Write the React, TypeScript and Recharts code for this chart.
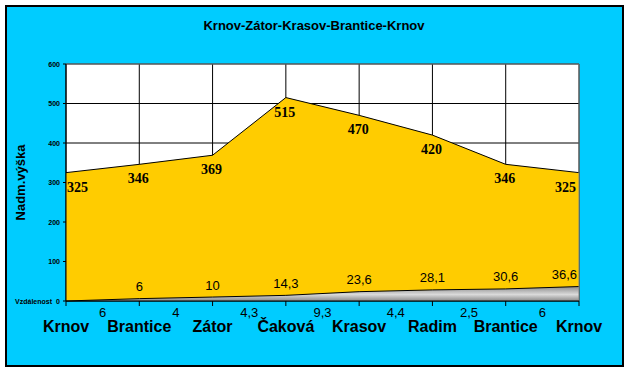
import React from "react";
import {
  AreaChart,
  Area,
  XAxis,
  YAxis,
  CartesianGrid,
  LabelList,
  ReferenceLine,
  Label,
} from "recharts";

// trasa a hodnoty
const places = ["Krnov", "Brantice", "Zátor", "Čaková", "Krasov", "Radim", "Brantice", "Krnov"];
const elevation = [325, 346, 369, 515, 470, 420, 346, 325];
const distance = [0, 6, 10, 14.3, 23.6, 28.1, 30.6, 36.6];
const segments = ["6", "4", "4,3", "9,3", "4,4", "2,5", "6"];
const yTicks = [0, 100, 200, 300, 400, 500, 600];

const data = places.map((p, i) => ({ idx: i, place: p, elev: elevation[i], dist: distance[i] }));
// celé indexy = obce, poloviny = úseky mezi nimi
const xTicks = places.flatMap((_, i) => (i < places.length - 1 ? [i, i + 0.5] : [i]));
const gridX = places.map((_, i) => i);

const SANS = "'Liberation Sans', Arial, sans-serif";
const SERIF = "'Liberation Serif', 'Times New Roman', serif";

const fmt = (v: number) => String(v).replace(".", ",");

function XTick(props: any) {
  const { x, y, payload } = props;
  const v = payload.value as number;
  if (Number.isInteger(v)) {
    return (
      <g>
        <line x1={x} x2={x} y1={y} y2={y + 5} stroke="#000" />
        <text x={x} y={y + 31} textAnchor="middle" fontFamily={SANS} fontWeight="bold" fontSize={16} fill="#000">
          {places[v]}
        </text>
      </g>
    );
  }
  return (
    <text x={x} y={y + 16} textAnchor="middle" fontFamily={SANS} fontSize={13} fill="#000">
      {segments[Math.floor(v)]}
    </text>
  );
}

function YTick(props: any) {
  const { x, y, payload } = props;
  return (
    <g fontFamily={SANS} fontWeight="bold" fontSize={7} fill="#000">
      {payload.value === 0 && (
        <text x={x - 8} y={y + 2.5} textAnchor="end">
          Vzdálenost
        </text>
      )}
      <text x={x} y={y + 2.5} textAnchor="end">
        {payload.value}
      </text>
    </g>
  );
}

function anchorFor(index: number) {
  if (index === 0) return "start";
  if (index === places.length - 1) return "end";
  return "middle";
}

function ElevLabel(props: any) {
  const { x, y, value, index } = props;
  const a = anchorFor(index);
  const dx = a === "start" ? 1 : a === "end" ? -3 : -1;
  return (
    <text x={x + dx} y={y + 19} textAnchor={a} fontFamily={SERIF} fontWeight="bold" fontSize={14} fill="#000">
      {value}
    </text>
  );
}

function DistLabel(props: any) {
  const { x, y, value, index } = props;
  if (index === 0) return null;
  const a = anchorFor(index);
  return (
    <text x={a === "end" ? x - 2 : x} y={y - 7.5} textAnchor={a} fontFamily={SANS} fontSize={13} fill="#000">
      {fmt(value)}
    </text>
  );
}

export default function App() {
  return (
    <div style={{ position: "absolute", left: 0, top: 0, width: 630, height: 372, background: "#fff" }}>
      <div
        style={{
          position: "absolute",
          left: 5,
          top: 5,
          width: 619,
          height: 362,
          boxSizing: "border-box",
          border: "2px solid #000",
          background: "#00CCFF",
        }}
      />
      <div
        style={{
          position: "absolute",
          left: 0,
          top: 18,
          width: 628,
          textAlign: "center",
          fontFamily: SANS,
          fontWeight: "bold",
          fontSize: 13,
          lineHeight: "16px",
          color: "#000",
        }}
      >
        Krnov-Zátor-Krasov-Brantice-Krnov
      </div>
      <div style={{ position: "absolute", left: 0, top: 0 }}>
        <AreaChart width={630} height={372} data={data} margin={{ top: 64, right: 51, bottom: 31, left: 26 }}>
          <defs>
            <linearGradient id="distFill" x1="0" y1="0" x2="0" y2="1">
              <stop offset="0%" stopColor="#8c8c8c" />
              <stop offset="55%" stopColor="#dadada" />
              <stop offset="100%" stopColor="#8a8a8a" />
            </linearGradient>
          </defs>
          <CartesianGrid stroke="#000" fill="#fff" verticalValues={gridX} horizontalValues={yTicks} />
          <XAxis
            dataKey="idx"
            type="number"
            domain={[0, places.length - 1]}
            ticks={xTicks}
            interval={0}
            height={40}
            tickSize={0}
            tickMargin={0}
            tickLine={false}
            axisLine={{ stroke: "#000" }}
            tick={<XTick />}
          />
          <YAxis
            type="number"
            domain={[0, 600]}
            ticks={yTicks}
            width={40}
            tickSize={3}
            tickMargin={3}
            tickLine={{ stroke: "#000" }}
            axisLine={{ stroke: "#000" }}
            tick={<YTick />}
          >
            <Label
              content={(p: any) => {
                const vb = p.viewBox;
                const cx = vb.x - 6;
                const cy = vb.y + vb.height / 2;
                return (
                  <text
                    x={cx}
                    y={cy}
                    transform={`rotate(-90 ${cx} ${cy})`}
                    textAnchor="middle"
                    dominantBaseline="central"
                    fontFamily={SANS}
                    fontWeight="bold"
                    fontSize={13}
                    fill="#000"
                  >
                    Nadm.výška
                  </text>
                );
              }}
            />
          </YAxis>
          <Area
            type="linear"
            dataKey="elev"
            stroke="#000"
            strokeWidth={1}
            fill="#FFCC00"
            fillOpacity={1}
            dot={false}
            activeDot={false}
            isAnimationActive={false}
          >
            <LabelList dataKey="elev" content={<ElevLabel />} />
          </Area>
          <Area
            type="linear"
            dataKey="dist"
            stroke="#000"
            strokeWidth={1}
            fill="url(#distFill)"
            fillOpacity={1}
            dot={false}
            activeDot={false}
            isAnimationActive={false}
          >
            <LabelList dataKey="dist" content={<DistLabel />} />
          </Area>
          <ReferenceLine y={600} stroke="#808080" />
          <ReferenceLine x={places.length - 1} stroke="#808080" />
        </AreaChart>
      </div>
    </div>
  );
}
